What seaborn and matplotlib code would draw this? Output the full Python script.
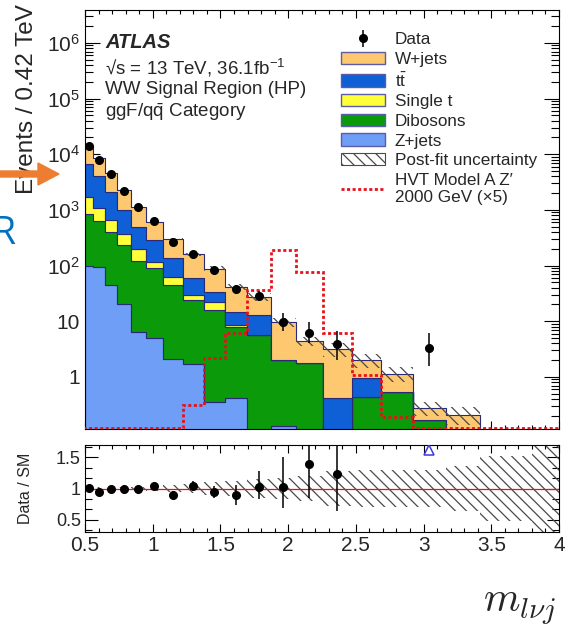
import numpy as np
import pandas as pd
import matplotlib
matplotlib.use("Agg")
import matplotlib.pyplot as plt
import seaborn as sns
from matplotlib.ticker import MultipleLocator, LogLocator, FuncFormatter, NullFormatter, FixedLocator
from matplotlib.patches import Patch, FancyArrow
from matplotlib.lines import Line2D

# ---------------- data ----------------
bin_edges = [0.50, 0.56, 0.645, 0.735, 0.84, 0.95, 1.075, 1.225, 1.375, 1.535, 1.695,
             1.87, 2.055, 2.255, 2.47, 2.685, 2.92, 3.165, 3.42, 3.80, 4.00]

processes = ["W+jets", "ttbar", "Single t", "Dibosons", "Z+jets"]
wjets    = [7320, 4490, 2540, 1280, 640, 310, 160, 98, 54, 27, 14.5, 7.6, 2.6, 2.7, 1.08, 0.62, 0.11, 0.21, 0, 0]
ttbar    = [5070, 2925, 1400, 610, 295, 177, 74, 30.6, 11.5, 6.3, 7.3, 0, 0, 0.42, 0.51, 0, 0, 0, 0, 0]
single_t = [850, 460, 272, 132, 80, 25, 17, 5.5, 6.1, 0.7, 0, 0, 0, 0, 0, 0, 0, 0, 0, 0]
dibosons = [756, 526, 349, 217, 112, 84, 43, 22.6, 15.8, 7.5, 5.7, 1.9, 1.8, 0, 0.43, 0.53, 0.17, 0, 0, 0]
zjets    = [99, 95, 45, 20.3, 6.5, 5.0, 2.1, 1.7, 0.36, 0.41, 0, 0.13, 0, 0, 0, 0, 0, 0, 0, 0]

signal   = [0, 0, 0, 0, 0, 0, 0, 0.31, 2.17, 6.1, 36.7, 192, 77.6, 6.1, 1.08, 0.19, 0, 0, 0, 0]

data        = [14280, 8000, 4500, 2230, 1130, 622, 266, 164, 83, 37.5, 28.3, 9.8, 6.1, 3.85, 0, 0, 3.3, 0, 0, 0]
data_err_lo = [120, 90, 67, 47, 34, 25, 16, 13, 9, 6.1, 5.3, 3.2, 2.0, 1.8, 0, 0, 1.7, 0, 0, 0]
data_err_hi = [120, 90, 67, 47, 34, 25, 17, 14, 10, 7.2, 6.4, 4.4, 3.5, 2.9, 0, 0, 2.9, 0, 0, 0]

nan = np.nan
ratio        = [1.01, 0.945, 0.99, 0.99, 1.0, 1.04, 0.90, 1.04, 0.945, 0.89, 1.03, 1.02, 1.39, 1.24,
                nan, nan, 11.6, nan, nan, nan]
ratio_err_lo = [0.01, 0.012, 0.015, 0.02, 0.03, 0.04, 0.06, 0.08, 0.09, 0.16, 0.2, 0.33, 0.54, 0.61,
                0, 0, 0, 0, 0, 0]
ratio_err_hi = [0.01, 0.012, 0.015, 0.02, 0.03, 0.04, 0.06, 0.08, 0.1, 0.16, 0.25, 0.48, 0.65, 0.8,
                0, 0, 0, 0, 0, 0]
rel_unc = [0.02, 0.02, 0.02, 0.025, 0.03, 0.035, 0.06, 0.08, 0.1, 0.12, 0.15, 0.17, 0.2, 0.28,
           0.29, 0.29, 0.29, 0.36, 0.53, 0.9]

x_ticks = [0.5, 1, 1.5, 2, 2.5, 3, 3.5, 4]
ratio_ticks = [0.5, 1, 1.5]

# ---------------- style ----------------
sns.set_theme(style="ticks")
plt.rcParams['font.family'] = ['Liberation Sans', 'DejaVu Sans']
plt.rcParams['mathtext.fontset'] = 'custom'
plt.rcParams['mathtext.rm'] = 'Liberation Sans'
plt.rcParams['mathtext.it'] = 'Liberation Sans:italic'
plt.rcParams['mathtext.bf'] = 'Liberation Sans:bold'
plt.rcParams['hatch.linewidth'] = 0.9
plt.rcParams['axes.linewidth'] = 0.8
plt.rcParams['axes.edgecolor'] = 'black'

colors = {"W+jets": "#FDC870", "ttbar": "#0F5FD6", "Single t": "#FFFF3A",
          "Dibosons": "#0A9A0A", "Z+jets": "#6E9EF5"}
outline = "#2a2a78"
red = "#e8101a"
hatch_col = "#4a4a4a"

W, H = 569, 629
fig = plt.figure(figsize=(W / 100, H / 100), dpi=100)

def fbox(l, t, r, b):
    return [l / W, 1 - b / H, (r - l) / W, (b - t) / H]

ax = fig.add_axes(fbox(85, 10, 559, 429))
rax = fig.add_axes(fbox(85, 445, 559, 532))

edges = np.array(bin_edges)
centers = 0.5 * (edges[1:] + edges[:-1])

rows = []
for name, vals in zip(processes, [wjets, ttbar, single_t, dibosons, zjets]):
    for c, v in zip(centers, vals):
        rows.append((c, v, name))
df = pd.DataFrame(rows, columns=["mlvj", "events", "process"])

ax.set_yscale("log")
sns.histplot(data=df, x="mlvj", weights="events", hue="process", hue_order=processes,
             palette=colors, bins=bin_edges, multiple="stack", element="step", fill=True,
             alpha=1, edgecolor=outline, linewidth=0.8, legend=False, ax=ax)

ymin, ymax = 0.116, 3.9e6
total = np.sum([wjets, ttbar, single_t, dibosons, zjets], axis=0)
unc = np.array(rel_unc)
valid = total > 0
band_hi = np.where(valid, total * (1 + unc), 1e-6)
band_lo = np.where(valid, total * (1 - unc), 1e-6)
ax.stairs(band_hi, edges, baseline=band_lo, fill=True, facecolor="none",
          edgecolor=hatch_col, hatch="\\\\\\", linewidth=0, zorder=1.2)

sig = np.array(signal)
sig_draw = np.where(sig > 0, sig, ymin * 1.03)
ax.stairs(sig_draw, edges, color=red, lw=2.0, linestyle=(0, (1.1, 0.9)), zorder=3)

d = np.array(data)
m = d > 0
eb = ax.errorbar(centers[m], d[m], yerr=[np.array(data_err_lo)[m], np.array(data_err_hi)[m]],
                 fmt="o", color="black", ms=5.5, elinewidth=1.1, capsize=0, zorder=5)

ax.set_xlim(0.5, 4)
ax.set_ylim(ymin, ymax)

def ylog_fmt(v, pos):
    if v <= 0:
        return ""
    e = int(round(np.log10(v)))
    if e == 0:
        return "1"
    if e == 1:
        return "10"
    return r"$10^{%d}$" % e

ax.yaxis.set_major_locator(LogLocator(base=10, numticks=20))
ax.yaxis.set_minor_locator(LogLocator(base=10, subs=np.arange(2, 10), numticks=80))
ax.yaxis.set_major_formatter(FuncFormatter(ylog_fmt))
ax.yaxis.set_minor_formatter(NullFormatter())
ax.xaxis.set_major_locator(FixedLocator(x_ticks))
ax.xaxis.set_minor_locator(MultipleLocator(0.1))
ax.tick_params(which="both", direction="in", top=True, right=True, labelsize=15,
               labelbottom=False, width=0.8, color="black")
ax.tick_params(axis="y", which="major", length=11)
ax.tick_params(axis="y", which="minor", length=5.5)
ax.tick_params(axis="x", which="major", length=6)
ax.tick_params(axis="x", which="minor", length=3)
ax.set_xlabel("")
ax.set_ylabel("")

# legend
handles = [eb]
for p in processes:
    handles.append(Patch(facecolor=colors[p], edgecolor="#5b5ba8", linewidth=1))
handles.append(Patch(facecolor="white", edgecolor=hatch_col, hatch="\\\\\\", linewidth=0.8))
handles.append(Line2D([], [], color=red, lw=2.0, linestyle=(0, (1.1, 0.9))))
labels = ["Data", "W+jets", r"t$\mathrm{\bar{t}}$", "Single t", "Dibosons", "Z+jets",
          "Post-fit uncertainty", "HVT Model A Z\u2032\n2000 GeV (\u00d75)"]
ax.legend(handles, labels, loc="upper left", bbox_to_anchor=(341 / W, 1 - 32 / H),
          bbox_transform=fig.transFigure, frameon=False, fontsize=12.3,
          handlelength=2.6, handleheight=0.75, handletextpad=0.55, labelspacing=0.26,
          borderpad=0, borderaxespad=0)

# ratio panel
rax.stairs(1 + unc, edges, baseline=1 - unc, fill=True, facecolor="none",
           edgecolor=hatch_col, hatch="\\\\\\", linewidth=0, zorder=1.2)
rax.axhline(1, color=red, lw=0.9, zorder=2)
r = np.array(ratio)
r_lo_lim, r_hi_lim = 0.3, 1.7
inr = np.isfinite(r) & (r <= r_hi_lim)
rax.errorbar(centers[inr], r[inr],
             yerr=[np.array(ratio_err_lo)[inr], np.array(ratio_err_hi)[inr]],
             fmt="o", color="black", ms=5.5, elinewidth=1.1, capsize=0, zorder=5)
off = np.isfinite(r) & (r > r_hi_lim)
rax.plot(centers[off], np.full(off.sum(), r_hi_lim - 0.08), linestyle="none", marker="^",
         mfc="none", mec="#3a3ae0", ms=7, mew=1.1, zorder=5)
rax.set_xlim(0.5, 4)
rax.set_ylim(r_lo_lim, r_hi_lim)
rax.yaxis.set_major_locator(FixedLocator(ratio_ticks))
rax.yaxis.set_minor_locator(MultipleLocator(1 / 6))
rax.yaxis.set_major_formatter(FuncFormatter(lambda v, p: f"{v:g}"))
rax.xaxis.set_major_locator(FixedLocator(x_ticks))
rax.xaxis.set_minor_locator(MultipleLocator(0.1))
rax.xaxis.set_major_formatter(FuncFormatter(lambda v, p: f"{v:g}"))
rax.tick_params(which="both", direction="in", top=True, right=True, width=0.8, color="black")
rax.tick_params(axis="x", labelsize=15, which="major", length=6, pad=3)
rax.tick_params(axis="x", which="minor", length=3)
rax.tick_params(axis="y", labelsize=13, which="major", length=9, pad=3)
rax.tick_params(axis="y", which="minor", length=5)

# texts
fig.text(105 / W, 1 - 43 / H, "ATLAS", fontsize=14.5, fontweight="bold", fontstyle="italic", va="center")
fig.text(105 / W, 1 - 68 / H, "\u221as = 13 TeV, 36.1fb$^{-1}$", fontsize=13.5, va="center")
fig.text(105 / W, 1 - 90 / H, "WW Signal Region (HP)", fontsize=13.5, va="center")
fig.text(105 / W, 1 - 112 / H, r"ggF/q$\mathrm{\bar{q}}$ Category", fontsize=13.5, va="center")

fig.text(27 / W, 1 - 4 / H, "Events / 0.42 TeV", rotation=90, va="top", ha="center", fontsize=17.5)
fig.text(25 / W, 1 - 488 / H, "Data / SM", rotation=90, va="center", ha="center", fontsize=11.5)

arrow = FancyArrow(0.0, (H - 174) / 100, 0.59, 0.0, width=0.06, head_width=0.22,
                   head_length=0.21, length_includes_head=True, color="#ED7D31",
                   transform=fig.dpi_scale_trans, zorder=10)
fig.add_artist(arrow)

fig.text(15 / W, 1 - 234 / H, "R", color="#0070C0", fontsize=27, ha="right", va="center",
         family="Open Sans")
fig.text(483 / W, 1 - 612 / H, r"$m_{l\nu j}$", fontsize=30, math_fontfamily="cm",
         ha="left", va="baseline")

fig.savefig("out.png", dpi=100)
